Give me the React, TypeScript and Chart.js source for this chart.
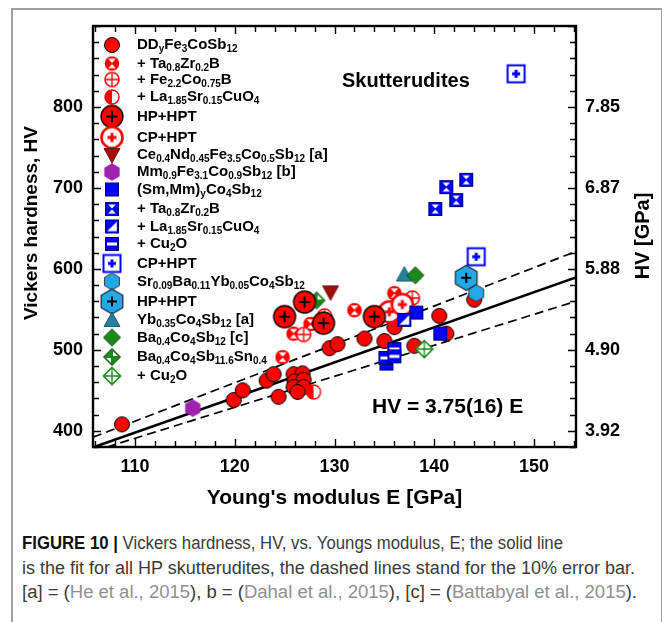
import React, { useEffect, useLayoutEffect, useRef } from "react";
import { Chart, registerables } from "chart.js";

Chart.register(...registerables);

const FONT = "Arial, 'Liberation Sans', Helvetica, sans-serif";

// Axis ranges and tick labels
const xRange = [105.8, 154.2];
const yRange = [380, 900];
const xTickValues = [110, 120, 130, 140, 150];
const yTickValues = [400, 500, 600, 700, 800];
const gpaTickLabels = ["3.92", "4.90", "5.88", "6.87", "7.85"];

// Measured points: [Young's modulus E (GPa), Vickers hardness HV]
const ddFe3CoSb12 = [
  [108.7, 408], [119.9, 438], [120.8, 450], [123.2, 462], [123.9, 470], [124.4, 442],
  [125.9, 470], [126.8, 471], [126.0, 461], [126.9, 463], [125.9, 454], [126.9, 454],
  [126.3, 448], [129.5, 502], [130.3, 507], [133.0, 514], [135.0, 511], [136.0, 528],
  [138.0, 505], [140.5, 542], [141.2, 520], [144.0, 562],
];
const ddTaZrB = [[124.8, 491], [125.9, 520], [127.6, 532], [132.0, 549], [136.0, 570]];
const ddFeCoB = [[126.9, 519], [129.0, 542], [137.8, 564]];
const ddLaSrCuO = [[127.9, 448]];
const ddHpHpt = [[125.0, 541], [127.0, 559], [128.9, 533], [134.0, 541]];
const ddCpHpt = [[135.5, 547], [136.8, 556]];
const ceNdFeCoSb = [[129.6, 571]];
const mmFeCoSb = [[115.8, 428]];
const smMmCoSb = [[138.2, 546], [140.6, 520], [135.2, 483]];
const smMmTaZrB = [[141.2, 701], [143.2, 710], [142.2, 685], [140.1, 674]];
const smMmLaSrCuO = [[137.0, 537]];
const smMmCu2O = [[135.1, 490], [136.0, 501], [136.0, 492]];
const smMmCpHpt = [[148.2, 841], [144.2, 615]];
const srBaYbCoSb = [[144.2, 570]];
const srBaYbHpHpt = [[143.2, 589]];
const ybCoSb = [[137.0, 593]];
const baCoSb = [[138.1, 592]];
const baCoSbSn = [[128.2, 561]];
const baCoSbSnCu2O = [[139.0, 501]];

// Fit line HV(E) and the dashed error band, as drawn
const fitLine = [[105.8, 379.5], [154.2, 589.5]];
const upperBand = [[105.8, 392], [154.2, 621.5]];
const lowerBand = [[107.2, 380], [154.2, 560]];

type Series = { label: string; marker: string; points: number[][] };

const series: Series[] = [
  { label: "DD_{y}Fe_{3}CoSb_{12}", marker: "circle", points: ddFe3CoSb12 },
  { label: "+ Ta_{0.8}Zr_{0.2}B", marker: "circHour", points: ddTaZrB },
  { label: "+ Fe_{2.2}Co_{0.75}B", marker: "circCross", points: ddFeCoB },
  { label: "+ La_{1.85}Sr_{0.15}CuO_{4}", marker: "circHalf", points: ddLaSrCuO },
  { label: "HP+HPT", marker: "hp", points: ddHpHpt },
  { label: "CP+HPT", marker: "cp", points: ddCpHpt },
  { label: "Ce_{0.4}Nd_{0.45}Fe_{3.5}Co_{0.5}Sb_{12} [a]", marker: "triDown", points: ceNdFeCoSb },
  { label: "Mm_{0.9}Fe_{3.1}Co_{0.9}Sb_{12} [b]", marker: "hexPurple", points: mmFeCoSb },
  { label: "(Sm,Mm)_{y}Co_{4}Sb_{12}", marker: "sqBlue", points: smMmCoSb },
  { label: "+ Ta_{0.8}Zr_{0.2}B", marker: "sqHour", points: smMmTaZrB },
  { label: "+ La_{1.85}Sr_{0.15}CuO_{4}", marker: "sqHalf", points: smMmLaSrCuO },
  { label: "+ Cu_{2}O", marker: "sqBar", points: smMmCu2O },
  { label: "CP+HPT", marker: "sqCP", points: smMmCpHpt },
  { label: "Sr_{0.09}Ba_{0.11}Yb_{0.05}Co_{4}Sb_{12}", marker: "hexCyan", points: srBaYbCoSb },
  { label: "HP+HPT", marker: "hexCyanHP", points: srBaYbHpHpt },
  { label: "Yb_{0.35}Co_{4}Sb_{12} [a]", marker: "triUp", points: ybCoSb },
  { label: "Ba_{0.4}Co_{4}Sb_{12} [c]", marker: "diamond", points: baCoSb },
  { label: "Ba_{0.4}Co_{4}Sb_{11.6}Sn_{0.4}", marker: "diamondPat", points: baCoSbSn },
  { label: "+ Cu_{2}O", marker: "diamondCross", points: baCoSbSnCu2O },
];

// Legend row centres (px from the top of the canvas)
const legendRowY = [45, 63.5, 79.5, 97, 116.5, 137.5, 155, 172, 189.5, 209, 226.5, 244, 263.5, 281.5, 301.5, 320, 337.5, 357, 376];

// Caption line lengths in px
const captionLineWidths = [541, 613, 615];

const RED = "#ff0000";
const BLUE = "#0000ff";
const CYAN = "#22a8e6";
const TEAL = "#24819b";
const GREEN = "#1b8a1b";
const PURPLE = "#a020b0";
const DARKRED = "#a30d0d";

type Ctx = CanvasRenderingContext2D;

function circle(g: Ctx, x: number, y: number, r: number, fill: string, stroke: string, lw: number) {
  g.beginPath();
  g.arc(x, y, r, 0, Math.PI * 2);
  g.fillStyle = fill;
  g.fill();
  if (lw > 0) {
    g.strokeStyle = stroke;
    g.lineWidth = lw;
    g.stroke();
  }
}

function poly(g: Ctx, pts: number[][], fill: string, stroke?: string, lw = 0) {
  g.beginPath();
  pts.forEach(([px, py], i) => (i ? g.lineTo(px, py) : g.moveTo(px, py)));
  g.closePath();
  g.fillStyle = fill;
  g.fill();
  if (stroke && lw > 0) {
    g.strokeStyle = stroke;
    g.lineWidth = lw;
    g.stroke();
  }
}

function plus(g: Ctx, x: number, y: number, arm: number, color: string, lw: number) {
  g.beginPath();
  g.moveTo(x - arm, y);
  g.lineTo(x + arm, y);
  g.moveTo(x, y - arm);
  g.lineTo(x, y + arm);
  g.strokeStyle = color;
  g.lineWidth = lw;
  g.lineCap = "butt";
  g.stroke();
}

function hourglass(g: Ctx, x: number, y: number, w: number, h: number, color: string) {
  poly(g, [[x - w, y - h], [x + w, y - h], [x, y - 0.6]], color);
  poly(g, [[x - w, y + h], [x + w, y + h], [x, y + 0.6]], color);
}

function square(g: Ctx, x: number, y: number, s: number, fill: string, stroke: string, lw: number) {
  g.fillStyle = fill;
  g.fillRect(x - s / 2, y - s / 2, s, s);
  g.strokeStyle = stroke;
  g.lineWidth = lw;
  g.strokeRect(x - s / 2, y - s / 2, s, s);
}

function hexagon(g: Ctx, x: number, y: number, r: number, fill: string, stroke: string, lw: number) {
  const pts: number[][] = [];
  for (let k = 0; k < 6; k++) {
    const a = -Math.PI / 2 + (k * Math.PI) / 3;
    pts.push([x + r * Math.cos(a), y + r * Math.sin(a)]);
  }
  poly(g, pts, fill, stroke, lw);
}

function makeMarker(kind: string): HTMLCanvasElement {
  const c = document.createElement("canvas");
  c.width = 32;
  c.height = 32;
  const g = c.getContext("2d") as Ctx;
  const x = 16;
  const y = 16;
  switch (kind) {
    case "circle":
      circle(g, x, y, 7.5, RED, "#000", 1);
      break;
    case "circHour":
      circle(g, x, y, 7.3, RED, RED, 0);
      hourglass(g, x, y, 3.8, 4.8, "#fff");
      break;
    case "circCross":
      circle(g, x, y, 7, "#fff", RED, 1.6);
      plus(g, x, y, 7, RED, 1.3);
      break;
    case "circHalf":
      circle(g, x, y, 7, "#fff", RED, 0);
      g.beginPath();
      g.arc(x, y, 7, Math.PI / 2, Math.PI * 1.5);
      g.closePath();
      g.fillStyle = RED;
      g.fill();
      g.beginPath();
      g.arc(x, y, 7, 0, Math.PI * 2);
      g.strokeStyle = RED;
      g.lineWidth = 1.4;
      g.stroke();
      break;
    case "hp":
      circle(g, x, y, 11, RED, "#000", 1.3);
      plus(g, x, y, 5.5, "#000", 2);
      break;
    case "cp":
      circle(g, x, y, 10.5, "#fff", RED, 2.6);
      plus(g, x, y, 4.5, RED, 3);
      break;
    case "triDown":
      poly(g, [[x - 8, y - 6.5], [x + 8, y - 6.5], [x, y + 8]], DARKRED, "#5a0000", 0.8);
      break;
    case "hexPurple":
      hexagon(g, x, y, 8.5, PURPLE, PURPLE, 0.5);
      break;
    case "sqBlue":
      square(g, x, y, 13, BLUE, "#00007a", 1);
      break;
    case "sqHour":
      square(g, x, y, 13, BLUE, "#00007a", 1);
      hourglass(g, x, y, 3.6, 4.6, "#fff");
      break;
    case "sqHalf":
      square(g, x, y, 13, BLUE, "#00007a", 1);
      poly(g, [[x + 4.8, y - 4.8], [x + 4.8, y + 4.8], [x - 4.8, y + 4.8]], "#fff");
      break;
    case "sqBar":
      square(g, x, y, 13, BLUE, "#00007a", 1);
      g.fillStyle = "#fff";
      g.fillRect(x - 5, y - 1.5, 10, 3);
      break;
    case "sqCP":
      square(g, x, y, 17, "#fff", BLUE, 2);
      plus(g, x, y, 4, BLUE, 3);
      break;
    case "hexCyan":
      hexagon(g, x, y, 8.5, CYAN, "#333", 1);
      break;
    case "hexCyanHP":
      hexagon(g, x, y, 12.5, CYAN, "#222", 1.2);
      plus(g, x, y, 5, "#000", 2);
      break;
    case "triUp":
      poly(g, [[x, y - 8], [x + 8, y + 6.5], [x - 8, y + 6.5]], TEAL, "#0d4555", 0.8);
      break;
    case "diamond":
      poly(g, [[x, y - 8.5], [x + 8.5, y], [x, y + 8.5], [x - 8.5, y]], GREEN, "#0a3d0a", 1);
      break;
    case "diamondPat":
      poly(g, [[x, y - 8.5], [x + 8.5, y], [x, y + 8.5], [x - 8.5, y]], GREEN, "#0a3d0a", 1);
      poly(g, [[x + 1, y - 1], [x + 1, y - 5.8], [x + 5.8, y - 1]], "#fff");
      poly(g, [[x - 1, y + 1], [x - 1, y + 5.8], [x - 5.8, y + 1]], "#fff");
      break;
    case "diamondCross":
      poly(g, [[x, y - 8.5], [x + 8.5, y], [x, y + 8.5], [x - 8.5, y]], "#fff", GREEN, 1.6);
      plus(g, x, y, 8, GREEN, 1.3);
      break;
  }
  return c;
}

// Draws text with _{...} subscripts, left aligned at (x, y)
function drawRich(g: Ctx, text: string, x: number, y: number, size: number, subSize: number, drop: number) {
  const parts = text.split(/(_\{[^}]*\})/);
  let cx = x;
  for (const p of parts) {
    if (!p) continue;
    if (p.startsWith("_{")) {
      const s = p.slice(2, -1);
      g.font = `bold ${subSize}px ${FONT}`;
      g.fillText(s, cx, y + drop);
      cx += g.measureText(s).width;
    } else {
      g.font = `bold ${size}px ${FONT}`;
      g.fillText(p, cx, y);
      cx += g.measureText(p).width;
    }
  }
}

const frameAndTicks = {
  id: "frameAndTicks",
  afterDatasetsDraw(chart: any) {
    const { ctx, chartArea: a, scales } = chart;
    const sx = scales.x;
    const sy = scales.y;
    ctx.save();
    ctx.strokeStyle = "#000";
    ctx.lineWidth = 1.4;
    ctx.beginPath();
    for (let v = Math.ceil(xRange[0] / 2) * 2; v <= xRange[1]; v += 2) {
      const px = Math.round(sx.getPixelForValue(v)) + 0.5;
      const len = v % 10 === 0 ? 8 : 6;
      ctx.moveTo(px, a.bottom);
      ctx.lineTo(px, a.bottom - len);
      ctx.moveTo(px, a.top);
      ctx.lineTo(px, a.top + len);
    }
    for (let v = Math.ceil(yRange[0] / 20) * 20; v <= yRange[1]; v += 20) {
      const py = Math.round(sy.getPixelForValue(v)) + 0.5;
      const len = v % 100 === 0 ? 8 : 6;
      ctx.moveTo(a.left, py);
      ctx.lineTo(a.left + len, py);
      ctx.moveTo(a.right, py);
      ctx.lineTo(a.right - len, py);
    }
    ctx.stroke();
    ctx.lineWidth = 2.4;
    ctx.strokeRect(a.left, a.top, a.right - a.left, a.bottom - a.top);
    ctx.restore();
  },
};

function makeAnnotations(markers: Record<string, HTMLCanvasElement>) {
  return {
    id: "annotations",
    afterDraw(chart: any) {
      const { ctx, chartArea: a } = chart;
      ctx.save();
      ctx.fillStyle = "#000";
      ctx.textBaseline = "middle";
      ctx.textAlign = "left";
      series.forEach((s, i) => {
        const y = legendRowY[i];
        ctx.drawImage(markers[s.marker], a.left + 19 - 16, y - 16);
        drawRich(ctx, s.label, a.left + 44, y, 15, 10, 4.5);
      });

      ctx.font = `bold 20px ${FONT}`;
      ctx.fillText("Skutterudites", a.left + 249, 81);
      ctx.font = `bold 21px ${FONT}`;
      ctx.fillText("HV = 3.75(16) E", a.left + 279, 407);

      // axis titles
      ctx.textAlign = "center";
      ctx.font = `bold 21px ${FONT}`;
      ctx.fillText("Young's modulus E [GPa]", (a.left + a.right) / 2, 498);

      ctx.save();
      ctx.translate(32, 223);
      ctx.rotate(-Math.PI / 2);
      ctx.font = `bold 19px ${FONT}`;
      ctx.fillText("Vickers hardness, HV", 0, 0);
      ctx.restore();

      ctx.save();
      ctx.translate(643, 236);
      ctx.rotate(-Math.PI / 2);
      ctx.font = `bold 20px ${FONT}`;
      ctx.fillText("HV [GPa]", 0, 0);
      ctx.restore();

      ctx.restore();
    },
  };
}

const toXY = (pts: number[][]) => pts.map(([x, y]) => ({ x, y }));

function ScatterChart() {
  const ref = useRef<HTMLCanvasElement | null>(null);

  useEffect(() => {
    const canvas = ref.current;
    if (!canvas) return;
    const markers: Record<string, HTMLCanvasElement> = {};
    series.forEach((s) => {
      if (!markers[s.marker]) markers[s.marker] = makeMarker(s.marker);
    });

    const lineSet = (pts: number[][], width: number, dash: number[]) => ({
      type: "line" as const,
      data: toXY(pts),
      borderColor: "#000",
      borderWidth: width,
      borderDash: dash,
      pointRadius: 0,
      showLine: true,
      fill: false,
      order: 100,
      xAxisID: "x",
      yAxisID: "y",
    });

    const pointSets = series.map((s, i) => ({
      type: "scatter" as const,
      data: toXY(s.points),
      pointStyle: markers[s.marker],
      pointRadius: 6,
      showLine: false,
      order: 60 - i - (s.marker === "hp" ? 30 : 0),
      xAxisID: "x",
      yAxisID: "y",
    }));

    const tickFont = { family: FONT, size: 18, weight: "bold" as const };

    const chart = new Chart(canvas, {
      type: "scatter",
      data: {
        datasets: [
          lineSet(fitLine, 2.6, []),
          lineSet(upperBand, 1.7, [9, 5]),
          lineSet(lowerBand, 1.7, [9, 5]),
          ...pointSets,
        ] as any,
      },
      options: {
        animation: false,
        responsive: false,
        events: [],
        layout: { padding: { top: 26, left: 0, right: 0, bottom: 0 } },
        plugins: { legend: { display: false }, tooltip: { enabled: false } },
        scales: {
          x: {
            type: "linear",
            position: "bottom",
            min: xRange[0],
            max: xRange[1],
            afterFit: (s: any) => {
              s.height = 73;
            },
            afterBuildTicks: (s: any) => {
              s.ticks = xTickValues.map((value) => ({ value }));
            },
            grid: { display: false, drawTicks: false },
            border: { display: false },
            ticks: { padding: 9, color: "#000", font: tickFont, maxRotation: 0, autoSkip: false, callback: (v: any) => String(v) },
          },
          y: {
            type: "linear",
            position: "left",
            min: yRange[0],
            max: yRange[1],
            afterFit: (s: any) => {
              s.width = 93;
            },
            afterBuildTicks: (s: any) => {
              s.ticks = yTickValues.map((value) => ({ value }));
            },
            grid: { display: false, drawTicks: false },
            border: { display: false },
            ticks: { padding: 10, color: "#000", font: tickFont, autoSkip: false, callback: (v: any) => String(v) },
          },
          y2: {
            type: "linear",
            position: "right",
            min: yRange[0],
            max: yRange[1],
            afterFit: (s: any) => {
              s.width = 86;
            },
            afterBuildTicks: (s: any) => {
              s.ticks = yTickValues.map((value) => ({ value }));
            },
            grid: { display: false, drawTicks: false },
            border: { display: false },
            ticks: {
              padding: 9,
              color: "#000",
              font: tickFont,
              autoSkip: false,
              callback: (v: any) => gpaTickLabels[yTickValues.indexOf(Number(v))],
            },
          },
        },
      } as any,
      plugins: [frameAndTicks, makeAnnotations(markers)],
    });
    return () => chart.destroy();
  }, []);

  return <canvas ref={ref} width={662} height={520} style={{ position: "absolute", left: 0, top: 0 }} />;
}

const refStyle = { color: "#8f8f8f" };

// Figure caption; each line is squeezed/stretched to its set length
function Caption() {
  const lines = useRef<(HTMLSpanElement | null)[]>([]);
  useLayoutEffect(() => {
    lines.current.forEach((el, i) => {
      if (!el) return;
      el.style.transform = "none";
      const w = el.getBoundingClientRect().width;
      if (w > 0) el.style.transform = `scaleX(${captionLineWidths[i] / w})`;
    });
  }, []);
  const lineStyle: React.CSSProperties = { display: "inline-block", transformOrigin: "0 50%", whiteSpace: "nowrap" };
  return (
    <div
      style={{
        position: "absolute",
        left: 22,
        top: 531,
        fontFamily: "'Liberation Sans', Arial, sans-serif",
        fontSize: 18,
        lineHeight: "24.5px",
        color: "#3a3a3a",
      }}
    >
      <span ref={(el) => { lines.current[0] = el; }} style={lineStyle}>
        <span style={{ fontWeight: "bold", color: "#111" }}>FIGURE 10 | </span>
        Vickers hardness, HV, vs. Youngs modulus, E; the solid line
      </span>
      <br />
      <span ref={(el) => { lines.current[1] = el; }} style={lineStyle}>
        is the fit for all HP skutterudites, the dashed lines stand for the 10% error bar.
      </span>
      <br />
      <span ref={(el) => { lines.current[2] = el; }} style={lineStyle}>
        [a] = (<span style={refStyle}>He et al., 2015</span>), b = (<span style={refStyle}>Dahal et al., 2015</span>), [c] = (
        <span style={refStyle}>Battabyal et al., 2015</span>).
      </span>
    </div>
  );
}

export default function App() {
  return (
    <div style={{ position: "fixed", left: 0, top: 0, width: 662, height: 622, background: "#fff", overflow: "hidden" }}>
      <div
        style={{
          position: "absolute",
          left: 11,
          top: 8,
          width: 648,
          height: 700,
          borderLeft: "2px solid #a0a0a0",
          borderTop: "2px solid #a0a0a0",
          borderRight: "2px solid #a0a0a0",
        }}
      />
      <ScatterChart />
      <Caption />
    </div>
  );
}
